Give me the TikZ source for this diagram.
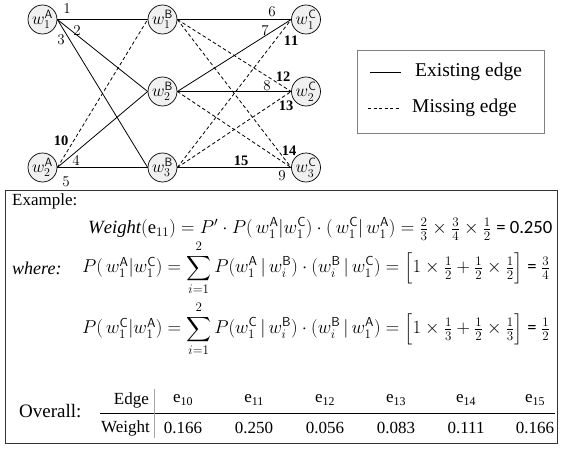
\RequirePackage{fix-cm}
\documentclass[tikz,border=0pt]{standalone}
\usepackage{fontspec}
\setmainfont{Liberation Serif}
\newfontfamily\calib{Carlito}
\usepackage{amsmath}
\begin{document}
\begin{tikzpicture}[x=1pt,y=-1pt,
  wnode/.style={circle,draw,line width=0.7pt,fill=gray!12,minimum size=29pt,inner sep=0pt,font=\fontsize{17.28}{17}\selectfont},
  elab/.style={font=\fontsize{15}{15}\selectfont,inner sep=0pt},
  mlab/.style={font=\fontsize{14.5}{14.5}\selectfont,inner sep=0pt},
  exist/.style={line width=0.8pt},
  miss/.style={line width=0.8pt,dash pattern=on 3.5pt off 2.5pt},
  txt/.style={inner sep=0pt,anchor=west},
  fml/.style={inner sep=0pt,anchor=west,font=\fontsize{18.6}{21}\selectfont},
  tab/.style={inner sep=0pt,font=\fontsize{17}{17}\selectfont}]
\useasboundingbox (0,0) rectangle (565,452);
% nodes
\node[wnode] (a1) at (42.5,19.5) {$w^{\mathsf{A}}_{1}$};
\node[wnode] (a2) at (42.5,167.5) {$w^{\mathsf{A}}_{2}$};
\node[wnode] (b1) at (162.5,19.5) {$w^{\mathsf{B}}_{1}$};
\node[wnode] (b2) at (162.5,91.5) {$w^{\mathsf{B}}_{2}$};
\node[wnode] (b3) at (162.5,167.5) {$w^{\mathsf{B}}_{3}$};
\node[wnode] (c1) at (306,19.5) {$w^{\mathsf{C}}_{1}$};
\node[wnode] (c2) at (306,91.5) {$w^{\mathsf{C}}_{2}$};
\node[wnode] (c3) at (306,167.5) {$w^{\mathsf{C}}_{3}$};
% existing edges
\draw[exist] (a1.east) -- (b1.west);
\draw[exist] (a1.east) -- (b2.west);
\draw[exist] (a1.east) -- (b3.west);
\draw[exist] (a2.east) -- (b2.west);
\draw[exist] (a2.east) -- (b3.west);
\draw[exist] (b1.east) -- (c1.west);
\draw[exist] (b2.east) -- (c1.west);
\draw[exist] (b2.east) -- (c2.west);
\draw[exist] (b3.east) -- (c3.west);
% missing edges
\draw[miss] (a2.east) -- (b1.west);
\draw[miss] (b1.east) -- (c2.west);
\draw[miss] (b1.east) -- (c3.west);
\draw[miss] (b2.east) -- (c3.west);
\draw[miss] (b3.east) -- (c1.west);
\draw[miss] (b3.east) -- (c2.west);
% edge labels
\node[elab] (l1) at (67,9) {$1$};
\node[elab] (l2) at (77,31) {$2$};
\node[elab] (l3) at (61,40) {$3$};
\node[elab] (l4) at (76,161) {$4$};
\node[elab] (l5) at (66,182) {$5$};
\node[elab] (l6) at (272,12) {$6$};
\node[elab] (l7) at (265,31) {$7$};
\node[elab] (l8) at (267,86) {$8$};
\node[elab] (l9) at (282,176) {$9$};
\node[mlab] (l10) at (61,141) {$\mathbf{10}$};
\node[mlab] (l11) at (291,41) {$\mathbf{11}$};
\node[mlab] (l12) at (283,77) {$\mathbf{12}$};
\node[mlab] (l13) at (286,106) {$\mathbf{13}$};
\node[mlab] (l14) at (289,151) {$\mathbf{14}$};
\node[mlab] (l15) at (241,161) {$\mathbf{15}$};
% legend
\draw[gray,line width=0.8pt] (357,50) rectangle (544,133);
\coordinate (s1) at (370,72);
\coordinate (s2) at (401,72);
\coordinate (d1) at (368,108);
\coordinate (d2) at (399,108);
\draw[exist] (s1) -- (s2);
\draw[line width=0.6pt,dash pattern=on 3pt off 2.5pt] (d1) -- (d2);
\node[txt,font=\fontsize{19.5}{19.5}\selectfont] (lex) at (415,72) {Existing edge};
\node[txt,font=\fontsize{19.5}{19.5}\selectfont] (lmi) at (412,108) {Missing edge};
% example box
\draw[line width=1pt,black!80] (5,190) rectangle (557,443);
\node[txt,font=\fontsize{17}{17}\selectfont] (ex) at (12,201) {Example:};
\node[fml,font=\fontsize{18.7}{21}\selectfont] (f1) at (88,229) {$\mathit{Weight}(\mathrm{e}_{11}) =P'\cdot P(\,w^{\mathsf{A}}_{1}|w^{\mathsf{C}}_{1})\cdot(\,w^{\mathsf{C}}_{1}|\,w^{\mathsf{A}}_{1}) =\tfrac{2}{3}\times\tfrac{3}{4}\times\tfrac{1}{2}$ {\calib= 0.250}};
\node[txt,font=\fontsize{18}{18}\selectfont\itshape] (wh) at (12,268) {where:};
\node[fml] (f2) at (82,268) {$P(\,w^{\mathsf{A}}_{1}|w^{\mathsf{C}}_{1}) =\displaystyle\sum_{i=1}^{2} P(w^{\mathsf{A}}_{1}\,|\,w^{\mathsf{B}}_{i})\cdot(w^{\mathsf{B}}_{i}\,|\,w^{\mathsf{C}}_{1}) = \Bigl[1\times\tfrac{1}{2}+\tfrac{1}{2}\times\tfrac{1}{2}\Bigr]$ {\calib=} $\tfrac{3}{4}$};
\node[fml] (f3) at (82,329) {$P(\,w^{\mathsf{C}}_{1}|w^{\mathsf{A}}_{1}) =\displaystyle\sum_{i=1}^{2} P(w^{\mathsf{C}}_{1}\,|\,w^{\mathsf{B}}_{i})\cdot(w^{\mathsf{B}}_{i}\,|\,w^{\mathsf{A}}_{1}) = \Bigl[1\times\tfrac{1}{3}+\tfrac{1}{2}\times\tfrac{1}{3}\Bigr]$ {\calib=} $\tfrac{1}{2}$};
% table
\node[txt,font=\fontsize{19}{19}\selectfont] (ov) at (19,411) {Overall:};
\node[tab,anchor=east] (hE) at (149,400) {Edge};
\node[tab,anchor=east] (hW) at (150,428) {Weight};
\node[tab] (e10) at (183,400) {e\textsubscript{10}};
\node[tab] (e11) at (254,400) {e\textsubscript{11}};
\node[tab] (e12) at (325,400) {e\textsubscript{12}};
\node[tab] (e13) at (396,400) {e\textsubscript{13}};
\node[tab] (e14) at (466,400) {e\textsubscript{14}};
\node[tab] (e15) at (535,400) {e\textsubscript{15}};
\node[tab] (w10) at (183,428) {0.166};
\node[tab] (w11) at (254,428) {0.250};
\node[tab] (w12) at (325,428) {0.056};
\node[tab] (w13) at (396,428) {0.083};
\node[tab] (w14) at (466,428) {0.111};
\node[tab] (w15) at (535,428) {0.166};
\coordinate (h1) at (100,413);
\coordinate (h2) at (555,413);
\coordinate (v1) at (154,389);
\coordinate (v2) at (154,438);
\draw[line width=0.8pt] (h1) -- (h2);
\draw[line width=0.8pt,gray!70] (v1) -- (v2);
\end{tikzpicture}
\end{document}
